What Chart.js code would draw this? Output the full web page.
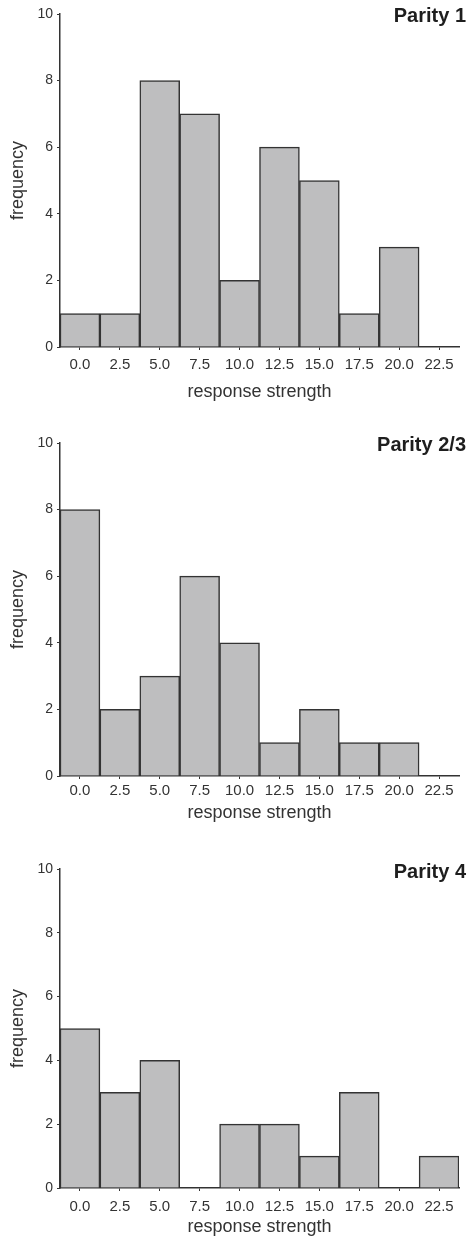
<!DOCTYPE html>
<html>
<head>
<meta charset="utf-8">
<script src="https://cdn.jsdelivr.net/npm/chart.js@4"></script>
<style>
  body { margin: 0; background: #fff; width: 471px; height: 1240px; position: relative; overflow: hidden; }
  .panel { position: absolute; left: 0; width: 471px; }
</style>
</head>
<body>
<div class="panel" id="p1" style="top:0px"><canvas id="grafico1" width="471" height="405"></canvas></div>
<div class="panel" id="p2" style="top:429px"><canvas id="grafico2" width="471" height="397"></canvas></div>
<div class="panel" id="p3" style="top:855px"><canvas id="grafico3" width="471" height="385"></canvas></div>
<script>
// categorías (clases de respuesta)
const categorias = ['0.0', '2.5', '5.0', '7.5', '10.0', '12.5', '15.0', '17.5', '20.0', '22.5'];

// frecuencias por paridad
const paridad1 = [1, 1, 8, 7, 2, 6, 5, 1, 3, 0];
const paridad23 = [8, 2, 3, 6, 4, 1, 2, 1, 1, 0];
const paridad4 = [5, 3, 4, 0, 2, 2, 1, 3, 0, 1];

const titulos = ['Parity 1', 'Parity 2/3', 'Parity 4'];
const ejeX = 'response strength';
const ejeY = 'frequency';

const fuente = "'Liberation Sans', Arial, Helvetica, sans-serif";
const gris = '#333333';

// Título en la esquina superior derecha
const tituloPlugin = {
  id: 'tituloParidad',
  afterDraw(chart, args, opts) {
    const ctx = chart.ctx;
    ctx.save();
    ctx.font = 'bold 20px ' + fuente;
    ctx.fillStyle = '#1e1e1e';
    ctx.textAlign = 'right';
    ctx.textBaseline = 'middle';
    ctx.fillText(opts.texto, chart.width - 5, chart.chartArea.top + opts.dy);
    ctx.restore();
  }
};

const crearGrafico = (id, datos, titulo, altoEje, padTick, dyTitulo) => {
  const ctx = document.getElementById(id).getContext('2d');
  new Chart(ctx, {
    type: 'bar',
    data: {
      labels: categorias,
      datasets: [{
        data: datos,
        backgroundColor: '#bebebf',
        borderColor: gris,
        borderWidth: 1.5,
        barPercentage: 1,
        categoryPercentage: 1
      }]
    },
    options: {
      responsive: false,
      animation: false,
      layout: { padding: { top: 14, right: 12, left: 0, bottom: 0 } },
      scales: {
        x: {
          grid: { offset: false, drawOnChartArea: false, drawTicks: true, tickLength: 3, color: gris },
          border: { display: true, color: gris, width: 1.5 },
          ticks: { color: gris, padding: padTick, font: { family: fuente, size: 15 } },
          title: { display: true, text: ejeX, color: gris, padding: { top: 0, bottom: 2 }, font: { family: fuente, size: 18 } },
          afterFit: (scale) => { scale.height = altoEje; }
        },
        y: {
          min: 0,
          max: 10,
          grid: { drawOnChartArea: false, drawTicks: true, tickLength: 3, color: gris },
          border: { display: true, color: gris, width: 1.5 },
          ticks: { stepSize: 2, color: gris, padding: 4, font: { family: fuente, size: 14 } },
          title: { display: true, text: ejeY, color: gris, padding: { top: 7, bottom: 0 }, font: { family: fuente, size: 18 } },
          afterFit: (scale) => { scale.width = 60; }
        }
      },
      plugins: {
        legend: { display: false },
        tooltip: { enabled: false },
        tituloParidad: { texto: titulo, dy: dyTitulo }
      }
    },
    plugins: [tituloPlugin]
  });
};

crearGrafico('grafico1', paridad1, titulos[0], 58, 6, 2);
crearGrafico('grafico2', paridad23, titulos[1], 50, 3, 2);
crearGrafico('grafico3', paridad4, titulos[2], 52, 7, 3);
</script>
</body>
</html>
